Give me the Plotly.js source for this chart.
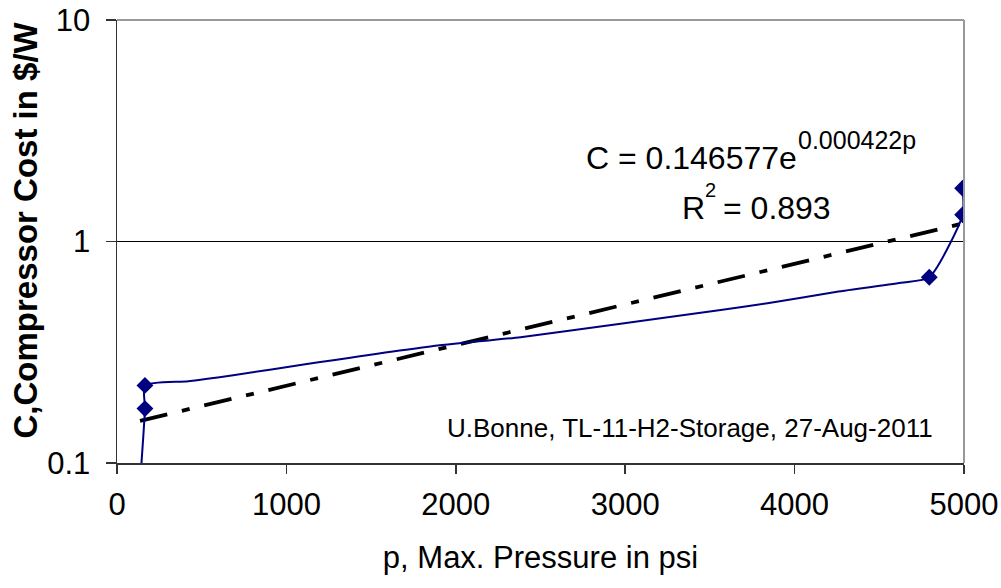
<!DOCTYPE html>
<html>
<head>
<meta charset="utf-8">
<script src="https://cdn.plot.ly/plotly-3.0.1.min.js"></script>
<style>html,body{margin:0;padding:0;background:#fff;}#chart{width:1001px;height:588px;}</style>
</head>
<body>
<div id="chart"></div>
<script>
// Blue smoothed curve (p in psi, C in $/W)
var curveP = [130, 165, 165, 420, 686, 1121, 1850, 2382, 2973, 3564, 3840, 4233, 4628, 4795, 4992, 4992];
var curveC = [0.07, 0.176, 0.224, 0.234, 0.249, 0.280, 0.336, 0.370, 0.425, 0.491, 0.526, 0.590, 0.651, 0.69, 1.32, 1.74];
// Data points (diamonds)
var pointP = [165, 165, 4795, 4992, 4992];
var pointC = [0.176, 0.224, 0.69, 1.32, 1.74];
// Exponential trendline end points (straight on log axis)
var trendP = [136, 5000];
var trendC = [0.155, 1.21];
// Tick labels
var xTicks = [0, 1000, 2000, 3000, 4000, 5000];
var yTicks = [0.1, 1, 10];
var yTickText = ["0.1", "1", "10"];

var FONT = "Liberation Sans, Arial, sans-serif";

var traces = [
  {x: trendP, y: trendC, mode: "lines", type: "scatter",
   line: {color: "#000000", width: 3.8, dash: "28px,15px,8px,15px"}, hoverinfo: "skip"},
  {x: curveP, y: curveC, mode: "lines", type: "scatter",
   line: {color: "#000080", width: 2, shape: "spline", smoothing: 0.6}, hoverinfo: "skip"},
  {x: pointP, y: pointC, mode: "markers", type: "scatter",
   marker: {symbol: "diamond", size: 13, color: "#000080"}, hoverinfo: "skip"}
];

var layout = {
  width: 1001, height: 588,
  margin: {l: 117, r: 37, t: 20, b: 125},
  paper_bgcolor: "#ffffff", plot_bgcolor: "#ffffff",
  showlegend: false,
  font: {family: FONT, color: "#000000"},
  xaxis: {
    range: [0, 5000], tickvals: xTicks, ticks: "outside", ticklen: 9, tickwidth: 1.5, tickcolor: "#333",
    showline: true, linecolor: "#333", linewidth: 1.5, showgrid: false, zeroline: false,
    tickfont: {size: 31, family: FONT, color: "#000"}, ticklabelstandoff: 4,
    title: {text: "p, Max. Pressure in psi", font: {size: 31, family: FONT, color: "#000"}, standoff: 25},
    automargin: false
  },
  yaxis: {
    type: "log", range: [-1, 1], tickvals: yTicks, ticktext: yTickText, ticks: "outside", ticklen: 10,
    tickwidth: 1.5, tickcolor: "#333",
    showline: true, linecolor: "#333", linewidth: 1.5, showgrid: true, gridcolor: "#000", gridwidth: 1,
    zeroline: false,
    tickfont: {size: 31, family: FONT, color: "#000"}, ticklabelstandoff: 9,
    automargin: false
  },
  shapes: [
    {type: "line", xref: "paper", yref: "paper", x0: 0, x1: 1, y0: 1, y1: 1, line: {color: "#999", width: 2}},
    {type: "line", xref: "paper", yref: "paper", x0: 1, x1: 1, y0: 0, y1: 1, line: {color: "#999", width: 2}}
  ],
  annotations: [
    {xref: "paper", yref: "paper", x: -0.108, y: 0.526, xanchor: "center", yanchor: "middle", showarrow: false,
     textangle: -90, text: "<b>C,Compressor Cost in $/W</b>", font: {size: 33, family: FONT, color: "#000"}},
    {xref: "paper", yref: "paper", x: 0.5513, y: 0.6896, xanchor: "left", yanchor: "middle", showarrow: false,
     text: "C = 0.146577e", font: {size: 32, family: FONT, color: "#000"}},
    {xref: "paper", yref: "paper", x: 0.8012, y: 0.7302, xanchor: "left", yanchor: "middle", showarrow: false,
     text: "0.000422p", font: {size: 25, family: FONT, color: "#000"}},
    {xref: "paper", yref: "paper", x: 0.6647, y: 0.5745, xanchor: "left", yanchor: "middle", showarrow: false,
     text: "R", font: {size: 32, family: FONT, color: "#000"}},
    {xref: "paper", yref: "paper", x: 0.6915, y: 0.617, xanchor: "left", yanchor: "middle", showarrow: false,
     text: "2", font: {size: 20, family: FONT, color: "#000"}},
    {xref: "paper", yref: "paper", x: 0.7135, y: 0.5745, xanchor: "left", yanchor: "middle", showarrow: false,
     text: "= 0.893", font: {size: 32, family: FONT, color: "#000"}},
    {xref: "paper", yref: "paper", x: 0.387, y: 0.0801, xanchor: "left", yanchor: "middle", showarrow: false,
     text: "U.Bonne, TL-11-H2-Storage, 27-Aug-2011", font: {size: 26, family: FONT, color: "#000"}}
  ]
};

Plotly.newPlot("chart", traces, layout, {staticPlot: true, displayModeBar: false});
</script>
</body>
</html>
